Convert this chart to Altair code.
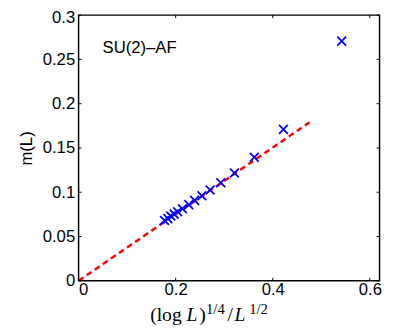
import altair as alt
import pandas as pd

# Data
x_vals = [0.542, 0.422, 0.362, 0.321, 0.293, 0.271, 0.254, 0.239, 0.227, 0.214, 0.204, 0.197, 0.190, 0.184, 0.177]
m_vals = [0.2706, 0.171, 0.1395, 0.1218, 0.1107, 0.1026, 0.096, 0.0908, 0.086, 0.0813, 0.0779, 0.0753, 0.0731, 0.0702, 0.068]
fit_x = [0.0, 0.476]
fit_y = [0.0, 0.179]
x_ticks = [0, 0.2, 0.4, 0.6]
y_ticks = [0, 0.05, 0.1, 0.15, 0.2, 0.25, 0.3]
annotation = "SU(2)\u2013AF"
y_title = "m(L)"
# x title pieces: (text, style, size)
title_text = ["(log", "L", ")", "1/4", "/", "L", "1/2"]
title_style = ["normal", "italic", "normal", "normal", "normal", "italic", "normal"]
title_size = [20, 20, 20, 15, 20, 20, 15]
title_left = [73, 110, 123, 130, 152, 159, 174]
title_base = [312, 312, 312, 305, 312, 312, 305]

W, H = 307, 271
TL = 3

df = pd.DataFrame({"x": x_vals, "m": m_vals})
df_fit = pd.DataFrame({"x": fit_x, "m": fit_y})
df_xt = pd.DataFrame({"x": x_ticks})
df_yt = pd.DataFrame({"m": y_ticks})

xs = alt.Scale(domain=[0, 0.62], nice=False, zero=False)
ys = alt.Scale(domain=[0, 0.3], nice=False, zero=False)

x_axis = alt.Axis(values=x_ticks, format="~g", title="", labelPadding=1)
y_axis = alt.Axis(
    values=y_ticks, format="~g", title=y_title, labelPadding=4,
    labelOffset={"condition": {"test": "datum.value >= 0.3", "value": 2.5}, "value": 0},
    titleFont="Liberation Sans", titleFontSize=17, titleFontWeight="normal",
    titleX=-53, titleY=135.5, titleAngle=-90, titleAlign="center", titleBaseline="middle")

X = lambda: alt.X("x:Q", scale=xs, axis=x_axis, title="")
Y = lambda: alt.Y("m:Q", scale=ys, axis=y_axis, title=y_title)

fit = alt.Chart(df_fit).mark_line(color="#ff0000", strokeWidth=2.5, strokeDash=[6, 4], clip=True).encode(
    x=X(), y=Y())

pts = alt.Chart(df).mark_point(
    shape="M-1,-1L1,1M-1,1L1,-1", size=81, color="#0000ff", strokeWidth=1.8, filled=False, opacity=1
).encode(x=X(), y=Y())

tick_style = dict(color="black", strokeWidth=1)
bot = alt.Chart(df_xt).mark_rule(**tick_style).encode(x=X(), y=alt.value(H), y2=alt.value(H - TL))
top = alt.Chart(df_xt).mark_rule(**tick_style).encode(x=X(), y=alt.value(0), y2=alt.value(TL))
left = alt.Chart(df_yt).mark_rule(**tick_style).encode(y=Y(), x=alt.value(0), x2=alt.value(TL))
right = alt.Chart(df_yt).mark_rule(**tick_style).encode(y=Y(), x=alt.value(W), x2=alt.value(W - TL))

label = alt.Chart(pd.DataFrame({"s": [annotation]})).mark_text(
    align="left", baseline="alphabetic", fontSize=17, font="Liberation Sans", color="black"
).encode(x=alt.value(24.5), y=alt.value(39), text="s:N")

title_layers = []
for t, st, sz, lx, by in zip(title_text, title_style, title_size, title_left, title_base):
    title_layers.append(
        alt.Chart(pd.DataFrame({"s": [t]})).mark_text(
            align="left", baseline="alphabetic", fontSize=sz, fontStyle=st,
            font="Liberation Serif", color="black", clip=False
        ).encode(x=alt.value(lx), y=alt.value(by), text="s:N")
    )

chart = alt.layer(fit, pts, bot, top, left, right, label, *title_layers).properties(
    width=W, height=H,
    autosize=alt.AutoSizeParams(type="none"),
    padding={"left": 72, "top": 4, "right": 28, "bottom": 50},
).configure_view(stroke="black", strokeWidth=1.5).configure_axis(
    domain=False, ticks=False, grid=False,
    labelFont="Liberation Sans", labelFontSize=17, labelColor="black", titleColor="black",
)

chart.save("out.html", embed_options={"renderer": "svg", "actions": False})
